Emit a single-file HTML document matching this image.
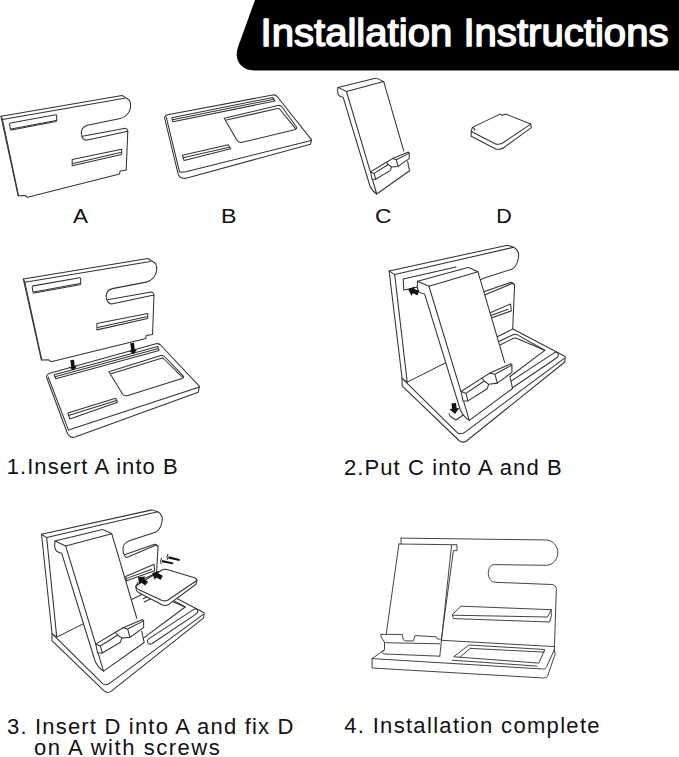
<!DOCTYPE html>
<html><head><meta charset="utf-8">
<style>
html,body{margin:0;padding:0;background:#fff;}
body{width:679px;height:757px;overflow:hidden;position:relative;}
svg{position:absolute;left:0;top:0;}
.t{font-family:"Liberation Sans",sans-serif;fill:#111;}
.ln{fill:none;stroke:#333;stroke-width:1.05;stroke-linejoin:round;stroke-linecap:round;vector-effect:non-scaling-stroke;}
.ln.lw{fill:#fff;}
#s4 .ln{stroke:#3a3a3a;stroke-width:0.95;}
</style></head>
<body>
<svg width="679" height="757" viewBox="0 0 679 757">
<!-- header -->
<path d="M255,0 L679,0 L679,70.5 L254,70.5 C241,70.5 233.5,60 238,47 Z" fill="#000"/>
<text class="t" x="260.5" y="46.3" font-size="39" fill="#fff" style="fill:#fff;stroke:#fff;stroke-width:1.5;stroke-linejoin:round" textLength="408" lengthAdjust="spacingAndGlyphs">Installation Instructions</text>

<!-- FIG A -->
<g id="figA">
<path class="ln" d="M1,116.3 L122.1,95.4 L129.5,100.3 C131.5,104 131,110 127.5,114 C125.5,116.5 123,118 120.3,118.6 L87.4,125.2 C83,126.5 81.2,130 81.4,133.6 C81.8,137.5 83.5,140 86.5,140.2 L127.8,131.2 L126.2,169.9 L120,171 L119.6,174 L27.5,197.3 L25,195.5 L18.1,195.7 Z"/>
<path class="ln" d="M1,116.3 L2.5,119.5 L124.5,98.3"/>
<path class="ln" d="M2.5,119.5 L18.5,195.7"/>
<path class="ln" d="M82.5,136.2 L125.4,128.3 Q127.3,128.5 127.8,131.2"/>
<path class="ln" d="M10.5,123 L55.7,114.8 Q56.7,114.7 56.7,115.7 L56.7,120.6 Q56.7,121.4 55.8,121.6 L11.5,130 Q10.5,130.2 10.3,129.2 L9.6,124.2 Q9.5,123.2 10.5,123 Z"/>
<path class="ln" d="M11,129 L56,120.4" stroke-width="1.5"/>
<path class="ln" d="M72.2,159.6 L121.6,149.3 L121.6,154.4 L72.2,165.8 Z"/>
<path class="ln" d="M73,163.5 L120.5,152.5" stroke-width="1.6"/>
</g>


<!-- FIG B -->
<g id="figB">
<path class="ln" d="M167.7,114.7 L272.5,95 Q275.6,94.4 277.5,97 L311.6,139.8 L310.4,144.3 L187,178 Q181,179.5 178.3,174.7 L164.7,118.5 Q164.3,115.3 167.7,114.7 Z"/>
<path class="ln" d="M166.3,117.3 L179.5,171.8"/>
<path class="ln" d="M179.5,171.8 Q181,172.5 185.9,171.8 L311.2,140.5"/>
<path class="ln" d="M171.8,117.7 L272.7,97.4 L275,101 L173,121.8 Z"/>
<path class="ln" d="M172.5,119.8 L273.8,99.2" stroke="#999" stroke-width="0.8"/>
<path class="ln" d="M224.2,118.3 L278,105.5 Q280.5,105 282,107 L296.8,127.5 Q297,129.2 294.5,129.8 L242,142.3 Q238.5,143 236.8,140 Z"/>
<path class="ln" d="M226.5,120 L277.5,108.6 Q279,108.3 280,109.5 L295.5,128.6"/>
<path class="ln" d="M182.4,155.3 L228.3,144.7 L230.7,148.8 L184.1,160.6 Z"/>
<path class="ln" d="M183,157.8 L229.3,147.2"/>
</g>

<!-- FIG C -->
<g id="figC">
<path fill="#fff" stroke="none" d="M337.9,87.4 L375.4,78.3 L383.7,81.6 L403.7,150.9 L409.2,153.1 L409.2,158.6 L407.6,161.5 L409.6,170.8 L377.2,194 L369.8,185.5 L343.2,97.3 L337.9,95 Z"/>
<path class="ln" d="M337.9,87.4 L375.4,78.3 Q376.5,78 377.5,78.6 L383.7,81.6 L346.5,91.5 Z"/>
<path class="ln" d="M337.9,87.4 Q337,93.5 339,95.5 Q341,97 343.2,97.3 L369.8,185.5 Q372,191 376.7,194 L409.6,170.8 L407.6,161.5"/>
<path class="ln" d="M346.5,91.5 L370.4,171.8"/>
<path class="ln" d="M372.5,179.7 L376.7,194"/>
<path class="ln" d="M383.7,81.6 L403.7,150.9"/>
<path class="ln" d="M370.5,171.9 L386.4,162.3 L392.6,158.6 L408.4,152 L409.2,153.1 L409.2,158.6 L398.1,166.4 L391.5,167.1 L390.4,170.4 L375.7,179.2 L372,179.2 Z"/>
<path class="ln" d="M374.2,173.4 L388.2,164.5 L391.5,167.1 M388.2,164.5 L386.4,162.3 M396.3,159.7 L409.2,153.1 M396.3,159.7 L398.1,166.4 M396.3,159.7 L392.6,158.6 M374.2,173.4 L375.7,179.2 M370.5,171.9 L374.2,173.4"/>
</g>

<!-- FIG D -->
<g id="figD">
<path class="ln" d="M472.4,127.4 L500,114.1 L502.4,115.3 L505.9,114.1 L530.7,124.1 L503.5,142.5 Q501,144.2 498.5,144.2 L496.2,144.2 L471.2,131.5 Z"/>
<path class="ln" d="M471.2,131.5 L471.2,136.2 L496.2,149.2 L499.5,149.2 Q502,149 504,147.5 L531.3,127.7 L530.7,124.1"/>
<path class="ln" d="M472.6,127.6 Q475.5,128.5 474.5,130.2" stroke-width="0.8"/>
</g>

<!-- STEP 1 -->
<use href="#figA" transform="matrix(1.0300,0.0069,0.0057,1.0185,21.60,160.51)"/>
<g id="s1tray">
<path class="ln" d="M50.6,373.1 L156,343.8 Q159.1,343 161,345.5 L199.5,386.3 L198.2,392.3 L75,437 Q70,438.5 67.5,433.5 L46.6,377.5 Q46,374.5 50.6,373.1 Z"/>
<path class="ln" d="M48.2,377 L68.5,430.1 L199.5,387"/>
<path class="ln" d="M54.2,374.8 L157.8,346.6 L159.1,350.5 L55.8,378.8 Z"/>
<path class="ln" d="M55,376.8 L158.4,348.5" stroke="#999" stroke-width="0.8"/>
<path class="ln" d="M108.9,371.8 L161,355.6 Q163.5,355 165,357 L183.6,376.4 Q184,378 182,378.5 L128,395.4 Q124.5,396.5 122.5,394 Z"/>
<path class="ln" d="M111,373.8 L161.5,358.2 Q163,357.8 164,359 L182.3,377.1"/>
<path class="ln" d="M67.8,412.9 L115.6,398.3 L117.5,402.3 L69.8,418.9 Z"/>
<path class="ln" d="M68.6,415.6 L116.5,400.4"/>
</g>
<path d="M70.3,360.3 L74,359.8 L74.8,366.5 L76.9,366.3 L73.5,370.6 L69.1,367.3 L71.2,367 Z" fill="#111"/>
<path d="M130.3,343.3 L134,342.8 L134.8,350 L136.9,349.8 L133.5,354.3 L129.1,350.8 L131.2,350.5 Z" fill="#111"/>


<!-- STEP 2 -->
<g id="s2base">
<!-- tray -->
<path class="ln lw" d="M402.1,378.4 L512.4,328.8 L565.2,356.5 L564.8,362 L466.5,441 Q462.5,443.5 459,440.5 L402.1,385.8 Z"/>
<path class="ln" d="M402.1,378.4 L457,432.3 Q460.3,435 464,432.8 L564.3,358.3"/>
<path class="ln" d="M499.4,341.2 L513.5,334.5 Q515.3,333.8 517,334.6 L544.8,350.3 L500,384"/>
<path class="ln" d="M500.6,344.7 L513.5,338.3 Q515.3,337.6 517,338.4 L544.8,350.3"/>
<path class="ln" d="M506,384.5 L554.5,352.6 Q557.5,351.5 558.3,354.5 Q558.5,356.8 556.5,358 L509.5,389.7 Q506.5,391 505,388.5 Q504.3,385.7 506,384.5 Z"/>
<!-- panel -->
<path class="ln lw" d="M389.1,270.9 L507.5,245.2 L513.7,247.3 C517.5,249.5 519,253 518.6,256.5 C518,262 515.5,267 512.2,269.1 L483.6,278.3 C478.5,280 476.5,284.5 477,288.4 C477.5,293 479.5,296 481,296.5 L512,283.5 Q513.6,283.2 514.6,284.7 L512.7,329.1 L407.2,382.1 L402.1,378.4 Z"/>
<path class="ln" d="M394.7,274.6 L513.7,247.3"/>
<path class="ln" d="M389.1,270.9 L394.7,274.6 L407.2,382.1"/>
<path class="ln" d="M478.7,293.6 L510.8,282.4 Q513,282.3 514.6,284.7"/>
<path class="ln" d="M480.2,317 L510.6,304 L511.3,310.9 L481.3,321.6 Z"/>
<path class="ln" d="M480.8,319.3 L508,309.2"/>
</g>
<path class="ln" d="M403.2,279.1 L456,267 M403.2,279.1 L403.8,290 L420,286.5"/>
<use href="#figC" transform="matrix(1.3173,-0.0402,0.0056,1.3208,-28.00,179.33)"/>
<path class="ln" d="M448.9,413.7 L450.5,416.5 L456,420 L463.2,415"/>
<path d="M-2.3,-10.5 L2.3,-10.5 L2.3,-5.2 L5,-5.2 L0,0.3 L-5,-5.2 L-2.3,-5.2 Z" fill="#111" transform="translate(408.5,289.4) rotate(110)"/>
<path d="M-2.3,-10.5 L2.3,-10.5 L2.3,-5.2 L5,-5.2 L0,0.3 L-5,-5.2 L-2.3,-5.2 Z" fill="#111" transform="translate(454.9,413.7) rotate(-6.4)"/>

<!-- STEP 3 -->
<use href="#s2base" transform="matrix(0.9304,-0.0044,-0.0145,0.9261,-316.58,285.03)"/>
<use href="#figC" transform="matrix(1.2386,-0.0068,0.0044,1.2222,-363.89,436.57)"/>

<!-- step3 extras -->
<path class="ln" d="M140,580.5 L165,569.3"/>
<path class="ln lw" d="M137.5,584.8 L162,570 Q164.5,568.8 167,569.6 L194.5,577.8 Q197.5,579 196.8,581.5 L195.7,584.5 L169,604.2 Q165.6,606.5 162,604.8 L138.5,592.5 Q136.2,591.2 136.1,589 Q135.5,586 137.5,584.8 Z"/>
<path class="ln" d="M136,587 Q137,588.8 139,589.8 L162,600.5 Q165,601.5 168,600 L196.8,580.5"/>
<path class="ln" d="M135.6,586.6 L138.2,582.2"/>
<path d="M-2.3,-10.5 L2.3,-10.5 L2.3,-5.2 L5,-5.2 L0,0.3 L-5,-5.2 L-2.3,-5.2 Z" fill="#111" transform="translate(138.2,577.5) rotate(126.3)"/>
<path d="M-2.3,-10.5 L2.3,-10.5 L2.3,-5.2 L5,-5.2 L0,0.3 L-5,-5.2 L-2.3,-5.2 Z" fill="#111" transform="translate(152.4,573.1) rotate(116.6)"/>
<!-- screws -->
<path d="M168.6,556.2 L179.5,559 Q180.5,560 179.3,561 L168.2,558.4 Z" fill="#111"/>
<path class="ln" d="M167.9,554.2 Q166.4,556.5 167.6,559.2" stroke-width="0.8"/>
<path d="M162.2,560 L173,562.4 Q174,563.6 172.8,564.3 L161.8,562.2 Z" fill="#111"/>
<path class="ln" d="M161.5,558.2 Q160,560.8 161.1,563.5" stroke-width="0.8"/>

<!-- STEP 4 -->
<g id="s4">
<!-- back panel -->
<path class="ln" d="M401.1,538.1 L546.7,540 C553,540.5 557.8,546 557.8,552.8 C557.8,559 553,565 546.7,565.3 L494.5,564.6 C490,564.6 488.3,569 488.3,573.4 C488.3,578 491,582.2 495.2,582.3 L551.9,584.5 Q556.3,585 556.3,589.5 L554.4,649.5"/>
<path class="ln" d="M401.1,538.1 L401.1,544"/>
<path class="ln" d="M441.6,640.3 L554.4,646.6"/>
<!-- shelf -->
<path class="ln" d="M461.4,606.2 L551.3,609.7 L551.3,615.9 L549.7,622 L453.5,618.6 L452.4,615.2 Z"/>
<path class="ln" d="M452.4,615.2 L547.5,617 L551.3,609.7"/>
<!-- base -->
<path class="ln" d="M372.1,658.6 L372.1,668 L543.5,678 Q546.5,678.2 547.4,676.5 L555.1,654.3 L554.4,649.5"/>
<path class="ln" d="M372.1,658.6 L542.5,669 Q545.5,669.4 546.3,667.5 L554.4,649.5"/>
<path class="ln" d="M372.1,658.6 L384.5,649.7"/>
<!-- recess -->
<path class="ln" d="M469.3,645 L544.8,649.5 L538.9,663.1 L454.1,656.8 Z"/>
<path class="ln" d="M470.4,648.4 L544.1,652.1 M470.4,648.4 L460.3,656.8"/>
<path class="ln" d="M452.4,660.2 L537.1,666.1" stroke="#777" stroke-width="1.8"/>
<!-- phone -->
<path class="ln" d="M398.9,544 L451.9,544.7 L457,544.7 L457,550.6 L453.4,550.6 L441.2,640.5"/>
<path class="ln" d="M398.9,544 L386.3,633.8"/>
<path class="ln" d="M451.5,545.5 L439.8,656.2"/>
<!-- ledge -->
<path class="ln" d="M381,634.4 L402.2,634.4 L403.3,639.7 L405.7,640.9 L413.3,640.9 L415.1,635.6 L436.3,636.8 L437.5,639.1 L440.4,639.1"/>
<path class="ln" d="M381,634.4 L381,636.8 L384.5,642.1 L384.5,649.7 L382.1,652.7 L383.3,653.9 L439.8,656.2"/>
<path class="ln" d="M385.7,642.7 L439.8,643.8"/>
</g>

<!-- labels -->
<text class="t" x="73" y="222.7" font-size="20" textLength="15" lengthAdjust="spacingAndGlyphs">A</text>
<text class="t" x="221" y="222.7" font-size="20" textLength="15.5" lengthAdjust="spacingAndGlyphs">B</text>
<text class="t" x="375" y="222.7" font-size="20" textLength="16.5" lengthAdjust="spacingAndGlyphs">C</text>
<text class="t" x="496.2" y="222.7" font-size="20" textLength="15.5" lengthAdjust="spacingAndGlyphs">D</text>

<!-- captions -->
<text class="t" x="6.7" y="474" font-size="22" textLength="171" lengthAdjust="spacing">1.Insert A into B</text>
<text class="t" x="344" y="475" font-size="22" textLength="217.6" lengthAdjust="spacing">2.Put C into A and B</text>
<text class="t" x="7" y="733.5" font-size="22" textLength="286.4" lengthAdjust="spacing">3. Insert D into A and fix D</text>
<text class="t" x="34" y="755" font-size="22" textLength="185.8" lengthAdjust="spacing">on A with screws</text>
<text class="t" x="344.2" y="733.4" font-size="22" textLength="255.4" lengthAdjust="spacing">4. Installation complete</text>
</svg>
</body></html>
